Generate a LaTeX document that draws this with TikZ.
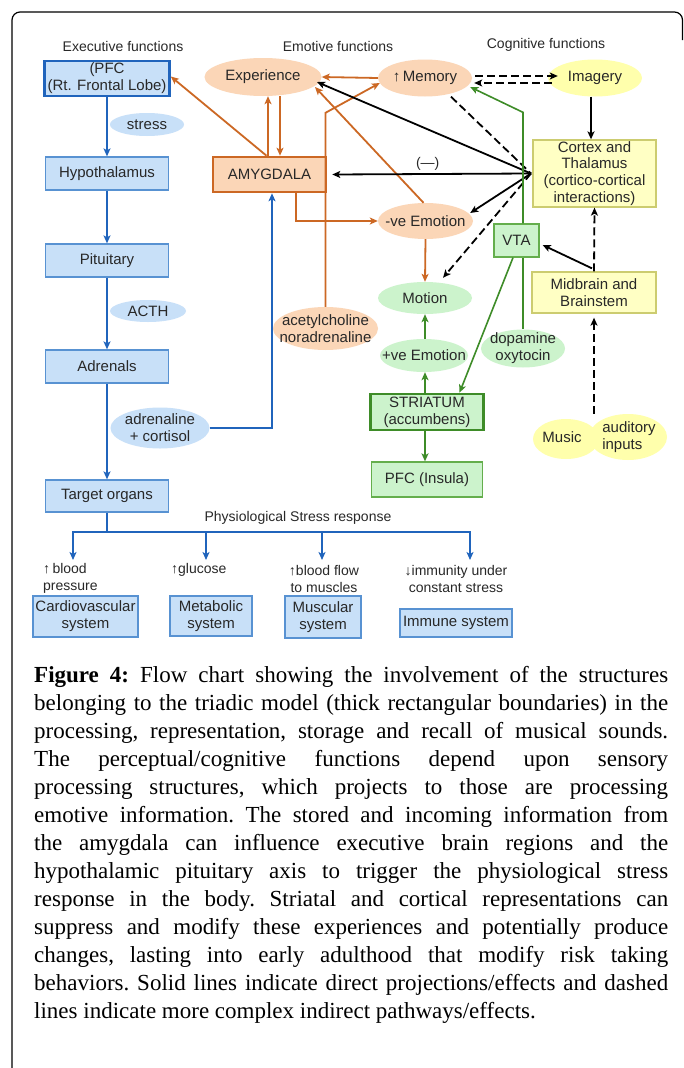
\documentclass[tikz,border=0pt]{standalone}
\usepackage{fontspec}
\setmainfont{Liberation Serif}
\newfontfamily\dsans{Liberation Sans}
\usetikzlibrary{arrows.meta,shapes.geometric,calc}
\definecolor{bfill}{RGB}{200,224,248}
\definecolor{bline}{RGB}{88,146,210}
\definecolor{bdark}{RGB}{32,100,188}
\definecolor{pfill}{RGB}{251,214,183}
\definecolor{oline}{RGB}{204,104,36}
\definecolor{gfill}{RGB}{204,243,204}
\definecolor{gline}{RGB}{62,140,40}
\definecolor{gbox}{RGB}{100,174,76}
\definecolor{yfill}{RGB}{255,255,196}
\definecolor{ylite}{RGB}{255,255,172}
\definecolor{yline}{RGB}{204,204,112}
\definecolor{txt}{RGB}{40,40,40}
\tikzset{
 txtb/.style={inner sep=0pt, align=center, text=txt, font=\dsans\fontsize{15}{16.8}\selectfont},
 lbl/.style={inner sep=0pt, align=center, text=txt, font=\dsans\fontsize{14}{17}\selectfont},
 sz/.style 2 args={minimum width=#1pt, minimum height=#2pt},
 bbox/.style={txtb, rectangle, fill=bfill, draw=bline, line width=1.3pt},
 bthick/.style={bbox, draw=bdark, line width=2.6pt},
 bell/.style={ellipse, inner sep=0pt, fill=bfill},
 pell/.style={ellipse, inner sep=0pt, fill=pfill},
 gell/.style={ellipse, inner sep=0pt, fill=gfill},
 yel/.style={ellipse, inner sep=0pt, fill=ylite},
 obox/.style={txtb, rectangle, fill=pfill, draw=oline, line width=2.6pt},
 gboxs/.style={txtb, rectangle, fill=gfill, draw=gbox, line width=1.3pt},
 gthick/.style={gboxs, draw=gline, line width=2.6pt},
 ybox/.style={txtb, rectangle, fill=yfill, draw=yline, line width=1.3pt},
 arw/.style={-{Stealth[length=8pt,width=7pt,inset=2pt]}},
 bl/.style={draw=bdark, line width=1.8pt},
 ol/.style={draw=oline, line width=1.8pt},
 gl/.style={draw=gline, line width=1.6pt},
 kl/.style={draw=black, line width=1.8pt},
 dsh/.style={dash pattern=on 8pt off 4pt},
}
\begin{document}
\begin{tikzpicture}[x=1pt,y=-1pt]
\useasboundingbox (0,0) rectangle (683,1068);
\fill[white] (0,0) rectangle (683,1068);
\draw[line width=1.2pt, rounded corners=8pt] (12,1068) -- (12,12) -- (682.5,12) -- (682.5,40);

% headers
\node[lbl] (hexec) at (123,46) {Executive functions};
\node[lbl] (hemo) at (338,46) {Emotive functions};
\node[lbl] (hcog) at (546,45) {Cognitive functions};

% left column
\node[bthick, sz={125}{35}] (pfc) at (107,78.5) {(PFC\\(Rt. Frontal Lobe)};
\node[bell, sz={74}{23}, label={[txtb]center:stress}] (stress) at (147,124.5) {};
\node[bbox, sz={123}{33}] (hyp) at (107,173.5) {Hypothalamus};
\node[bbox, sz={123}{33}] (pit) at (107,260.5) {Pituitary};
\node[bell, sz={76}{22}, label={[txtb]center:ACTH}] (acth) at (148,311) {};
\node[bbox, sz={123}{33}] (adr) at (107,366.5) {Adrenals};
\node[bell, sz={99}{41}, label={[txtb]center:{adrenaline\\+ cortisol}}] (adc) at (160,428) {};
\node[bbox, sz={123}{32}] (tgt) at (107,496) {Target organs};

% bottom
\node[lbl] (phys) at (298,518) {Physiological Stress response};
\coordinate (split) at (107,532);
\coordinate (a1) at (73,560);
\coordinate (a2) at (206,560);
\coordinate (a3) at (322,560);
\coordinate (a4) at (470,560);
\node[lbl, align=left, anchor=west] (l1) at (43,578.5) {\textbf{↑}\,blood\\pressure};
\node[lbl, anchor=west] (l2) at (171,570) {\textbf{↑}glucose};
\node[lbl] (l3) at (324,578.5) {\textbf{↑}blood flow\\to muscles};
\node[lbl] (l4) at (456,578.5) {\textbf{↓}immunity under\\constant stress};
\node[bbox, sz={105}{41}] (cv) at (85.5,616.5) {Cardiovascular\\system};
\node[bbox, sz={82}{40}] (met) at (211,616) {Metabolic\\system};
\node[bbox, sz={76}{42}] (mus) at (323,617) {Muscular\\system};
\node[bbox, sz={112}{28}] (imm) at (456,623) {Immune system};

% middle and right
\node[pell, sz={117}{38}, label={[txtb]center:Experience}] (exp) at (263,77) {};
\node[obox, sz={113}{35}] (amyg) at (269.5,174.5) {AMYGDALA};
\node[pell, sz={94}{37}, label={[txtb]center:{\textbf{↑}\,Memory}}] (mem) at (425,78) {};
\node[yel, sz={94}{37}, label={[txtb]center:Imagery}] (img) at (595,78) {};
\node[ybox, sz={123}{67}] (ctx) at (594.5,173.5) {Cortex and\\Thalamus\\(cortico-cortical\\interactions)};
\node[pell, sz={95}{36}, label={[txtb]center:-ve Emotion}] (neg) at (425.5,221) {};
\node[gboxs, sz={45}{33}] (vta) at (516.5,240.5) {VTA};
\node[ybox, sz={124}{41}] (mid) at (594,292.5) {Midbrain and\\Brainstem};
\node[gell, sz={94}{32}, label={[txtb]center:Motion}] (mot) at (425,298) {};
\node[gell, sz={88}{33}, label={[txtb]center:+ve Emotion}] (pos) at (424,355.5) {};
\node[gell, sz={84}{38}, label={[txtb]center:{dopamine\\oxytocin}}] (dopa) at (523,348.5) {};
\node[gthick, sz={113}{36}] (stri) at (427,412) {STRIATUM\\(accumbens)};
\node[gboxs, sz={111}{35}] (pfci) at (427,479.5) {PFC (Insula)};
\node[pell, sz={105}{43}, label={[txtb]center:{acetylcholine\\noradrenaline}}] (ach) at (325.5,328.5) {};
\node[yel, sz={66}{40}] (music) at (566,439) {};
\node[yel, sz={78}{46}] (aud) at (628,437) {};
\node[txtb] (musict) at (562,437) {Music};
\node[txtb, align=left] (audt) at (629,437) {auditory\\inputs};
\coordinate (hub) at (531,173.5);

% blue connectors
\draw[bl,arw] (pfc.south) -- (hyp.north);
\draw[bl,arw] (hyp.south) -- (pit.north);
\draw[bl,arw] (pit.south) -- (adr.north);
\draw[bl,arw] (adr.south) -- (tgt.north);
\draw[bl,arw] (adc.east) -| ([xshift=2.5pt]amyg.south);
\draw[bl] (tgt.south) -- (split);
\draw[bl,arw] (split) -| (a1);
\draw[bl,arw] (split) -| (a2);
\draw[bl,arw] (split) -| (a3);
\draw[bl,arw] (split) -| (a4);

% orange connectors
\draw[ol,arw] ([xshift=-3pt]amyg.north) -- ([yshift=2pt]pfc.east);
\draw[ol,arw] ([xshift=-1.5pt]amyg.north) -- ([xshift=5pt]exp.south);
\draw[ol,arw] ([xshift=17pt]exp.south) -- ([xshift=10.5pt]amyg.north);
\draw[ol,arw] (mem.west) -- (exp.east);
\draw[ol,arw] (ach.north) -- ++(0,-194) -- ([xshift=2pt,yshift=-5pt]mem.west);
\draw[ol,arw] ([xshift=-2pt]neg.north) -- ([xshift=52pt,yshift=-10pt]exp.center);
\draw[ol,arw] ([xshift=26.5pt]amyg.south) |- (neg.west);
\draw[ol,arw] (neg.south) -- (mot.north);

% black connectors
\draw[kl,arw] ([xshift=-4pt]img.south) -- ([xshift=-3.5pt]ctx.north);
\draw[kl,dsh,arw] ([xshift=3pt,yshift=2pt]mem.east) -- ([xshift=10pt,yshift=2pt]img.west);
\draw[kl,dsh,arw] ([xshift=4pt,yshift=-5pt]img.west) -- ([xshift=2pt,yshift=-5pt]mem.east);
\draw[kl,arw] (hub) -- ([xshift=54pt,yshift=-5pt]exp.center);
\draw[kl,arw] (hub) -- ([xshift=5pt]amyg.east) node[lbl, pos=0.52, yshift=10pt] (minus) {(—)};
\draw[kl,arw] (hub) -- ([xshift=-3pt,yshift=8pt]neg.east);
\draw[kl,dsh] ([xshift=26pt]mem.south) -- (hub);
\draw[kl,dsh,arw] (hub) -- ([xshift=18pt,yshift=4pt]mot.north);
\draw[kl,arw] ([xshift=-2pt,yshift=3pt]mid.north) -- ([xshift=3pt,yshift=-4.5pt]vta.east);
\draw[kl,dsh,arw] (mid.north) -- (ctx.south);
\draw[kl,dsh,arw] (mid.south |- aud.north) -- ([yshift=-4pt]mid.south);

% green connectors
\draw[gl,arw] ([xshift=6.5pt]vta.north) -- ++(0,-111) -- ([xshift=-2pt,yshift=-9pt]mem.east);
\draw[gl,arw] ([xshift=-3.5pt]vta.south) -- ([xshift=32.5pt]stri.north);
\draw[gl] ([xshift=6.5pt]vta.south) -- (dopa.north);
\draw[gl,arw] (stri.north -| mot.south) -- (pos.south -| mot.south);
\draw[gl,arw] (pos.north -| mot.south) -- (mot.south);
\draw[gl,arw] (stri.south -| mot.south) -- (pfci.north -| mot.south);

% caption
\node[anchor=base west, inner sep=0pt, text=black] (cap) at (34,682) {\parbox[t]{634pt}{\fontsize{23}{28}\selectfont\frenchspacing\setlength{\parindent}{0pt}\tolerance=9999\hyphenpenalty=10000\emergencystretch=20pt
\textbf{Figure 4:} Flow chart showing the involvement of the structures\linebreak
belonging to the triadic model (thick rectangular boundaries) in the\linebreak
processing, representation, storage and recall of musical sounds.\linebreak
The perceptual/cognitive functions depend upon sensory\linebreak
processing structures, which projects to those are processing\linebreak
emotive information. The stored and incoming information from\linebreak
the amygdala can influence executive brain regions and the\linebreak
hypothalamic pituitary axis to trigger the physiological stress\linebreak
response in the body. Striatal and cortical representations can\linebreak
suppress and modify these experiences and potentially produce\linebreak
changes, lasting into early adulthood that modify risk taking\linebreak
behaviors. Solid lines indicate direct projections/effects and dashed\linebreak
lines indicate more complex indirect pathways/effects.}};
\end{tikzpicture}
\end{document}
